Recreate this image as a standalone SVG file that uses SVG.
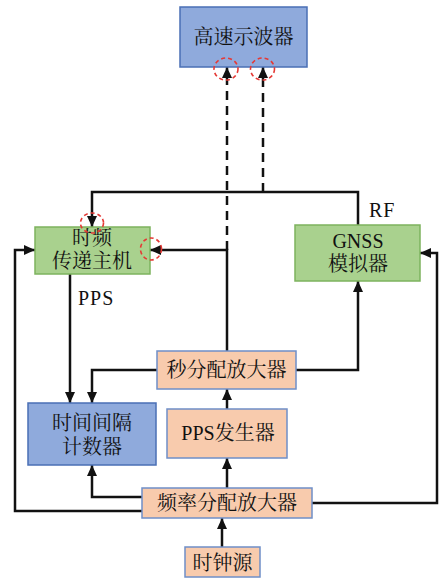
<svg xmlns="http://www.w3.org/2000/svg" width="441" height="579" viewBox="0 0 441 579">
<defs>
<style>
.blue{fill:#8FAADC;stroke:#4A6FB5;stroke-width:1.5}
.green{fill:#A9D18E;stroke:#7DB35E;stroke-width:1.5}
.orange{fill:#F8CBAD;stroke:#6F8FC8;stroke-width:1.5}
.t{font-family:"Liberation Serif","Noto Serif CJK SC","Noto Sans CJK SC",serif;font-size:20px;fill:#111;text-anchor:middle;dominant-baseline:central}
.lbl{font-family:"Liberation Serif",serif;font-size:20px;fill:#111;letter-spacing:1px}
.c{fill:none;stroke:#111;stroke-width:2.5}
.d{stroke-dasharray:9 6}
.red{fill:none;stroke:#E53935;stroke-width:1.6;stroke-dasharray:4 3}
</style>
<marker id="a" markerUnits="userSpaceOnUse" markerWidth="11" markerHeight="11" viewBox="0 0 11 11" refX="11" refY="5.5" orient="auto">
<path d="M0,0.5 L11,5.5 L0,10.5 z" fill="#111"/>
</marker>
</defs>
<rect width="441" height="579" fill="#fff"/>
<g id="connectors">
<path class="c" d="M70,274 V403" marker-end="url(#a)"/>
<path class="c" d="M157,370 H92 V403" marker-end="url(#a)"/>
<path class="c" d="M296,370 H358 V281" marker-end="url(#a)"/>
<path class="c" d="M227,351 V250 H150" marker-end="url(#a)"/>
<path class="c d" d="M227,250 V67" marker-end="url(#a)"/>
<path class="c" d="M358,225 V192 H92 V227" marker-end="url(#a)"/>
<path class="c d" d="M263,192 V67" marker-end="url(#a)"/>
<path class="c" d="M227,409 V389" marker-end="url(#a)"/>
<path class="c" d="M227,488 V458" marker-end="url(#a)"/>
<path class="c" d="M142,497 H92 V465" marker-end="url(#a)"/>
<path class="c" d="M142,511 H15 V250 H35" marker-end="url(#a)"/>
<path class="c" d="M312,503 H437 V253 H420" marker-end="url(#a)"/>
<path class="c" d="M222,547 V518" marker-end="url(#a)"/>
</g>
<g id="oscilloscope"><rect class="blue" x="180" y="7" width="127" height="60"/><text class="t" x="243.5" y="37">高速示波器</text></g>
<g id="tf-host"><rect class="green" x="35" y="227" width="115" height="47"/><text class="t" x="92" y="238">时频</text><text class="t" x="92" y="261">传递主机</text></g>
<g id="gnss"><rect class="green" x="295" y="225" width="125" height="56"/><text class="t" x="358" y="241">GNSS</text><text class="t" x="358" y="264">模拟器</text></g>
<g id="pulse-amp"><rect class="orange" x="157" y="351" width="139" height="38"/><text class="t" x="226.5" y="370">秒分配放大器</text></g>
<g id="counter"><rect class="blue" x="28" y="403" width="128" height="62"/><text class="t" x="92" y="423">时间间隔</text><text class="t" x="92" y="447">计数器</text></g>
<g id="pps-gen"><rect class="orange" x="167" y="409" width="120" height="49"/><text class="t" x="228" y="433">PPS发生器</text></g>
<g id="freq-amp"><rect class="orange" x="142" y="488" width="170" height="30"/><text class="t" x="227" y="503">频率分配放大器</text></g>
<g id="clock"><rect class="orange" x="185" y="547" width="75" height="30"/><text class="t" x="222.5" y="563">时钟源</text></g>
<g id="labels">
<text class="lbl" x="78" y="305">PPS</text>
<text class="lbl" x="369" y="217">RF</text>
</g>
<g id="highlights">
<ellipse class="red" cx="226" cy="69" rx="12" ry="11"/>
<ellipse class="red" cx="262.5" cy="69" rx="12" ry="11"/>
<ellipse class="red" cx="92" cy="223" rx="11.5" ry="10"/>
<ellipse class="red" cx="151" cy="249" rx="10.5" ry="11"/>
</g>
</svg>
